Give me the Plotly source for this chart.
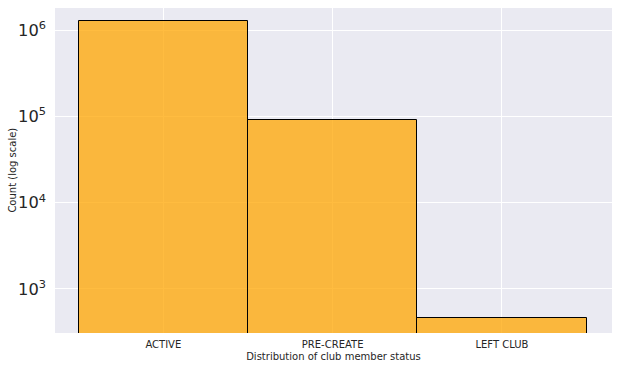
import plotly.graph_objects as go

categories = ["ACTIVE", "PRE-CREATE", "LEFT CLUB"]
counts = [1260000, 91600, 458]

fig = go.Figure()
fig.add_trace(go.Bar(
    x=categories, y=counts,
    marker=dict(color="rgba(255,165,0,0.75)", line=dict(color="black", width=1)),
    width=1.0,
))
fig.update_layout(
    width=618, height=371,
    margin=dict(l=55, r=6, t=8, b=38),
    paper_bgcolor="white", plot_bgcolor="#EAEAF2",
    font=dict(family="DejaVu Sans", color="#262626"),
    showlegend=False, bargap=0,
)
fig.update_xaxes(
    range=[-0.64, 2.65], showgrid=True, gridcolor="white", gridwidth=1,
    tickfont=dict(size=10), ticks="", zeroline=False, ticklabelstandoff=4,
    title=dict(text="Distribution of club member status", font=dict(size=10), standoff=3),
)
fig.update_yaxes(
    type="log", range=[2.49, 6.255], dtick=1, exponentformat="power",
    showgrid=True, gridcolor="white", gridwidth=1, ticks="",
    tickfont=dict(size=13), zeroline=False, ticklabelstandoff=8,
)
fig.add_annotation(
    text="Count (log scale)", textangle=-90, showarrow=False,
    xref="paper", yref="paper", x=-0.077, y=0.5,
    xanchor="center", yanchor="middle", font=dict(size=10),
)
fig.write_html("out.html")
